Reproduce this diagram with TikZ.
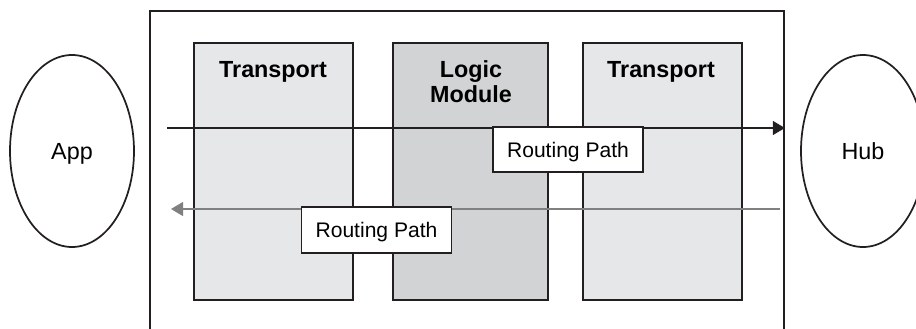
\documentclass[tikz,border=0pt]{standalone}
\usepackage{fontspec}
\setmainfont{Liberation Sans}
\usetikzlibrary{shapes,arrows.meta}
\definecolor{edge}{HTML}{231F20}
\definecolor{transfill}{HTML}{E6E7E8}
\definecolor{logicfill}{HTML}{D1D3D4}
\definecolor{backline}{HTML}{808080}

\begin{document}
\begin{tikzpicture}[x=7.5pt,y=-7.5pt,line width=1.3pt]
\tikzstyle{layer}=[draw=edge,rectangle,inner sep=0,minimum width=119.25pt,minimum height=192.75pt]
\tikzstyle{title}=[anchor=base,align=center,font=\bfseries\fontsize{17.5}{18.75}\selectfont]
\tikzstyle{side}=[draw=edge,ellipse,inner sep=0,minimum width=93pt,minimum height=144pt,text height=12.5pt,text depth=0pt,font=\fontsize{17.5}{21}\selectfont]
\tikzstyle{path}=[draw=edge,fill=white,rectangle,inner sep=0,minimum width=112.5pt,minimum height=34pt,text height=11.3pt,text depth=0pt,font=\fontsize{15.8}{19}\selectfont]
\tikzstyle{flow}=[line width=0.8pt,-{Triangle[length=9pt,width=10.5pt]}]
\useasboundingbox (0,0) rectangle (91.6,32.8);
\clip (0,0) rectangle (91.6,32.8);
% the node with its layers
\node[draw=edge,rectangle,inner sep=0,minimum width=475.5pt,minimum height=246.75pt] (frame) at (46.7,17.55) {};
\node[layer,fill=transfill] (left) at (27.35,17.15) {};
\node[layer,fill=logicfill,minimum width=116.25pt] (logic) at (47.05,17.15) {};
\node[layer,fill=transfill] (right) at (66.25,17.15) {};
\node[title] (lefttitle) at (27.3,7.7) {Transport};
\node[title] (logictitle) at (47.1,10.2) {Logic\\Module};
\node[title] (righttitle) at (66.1,7.7) {Transport};
% ends
\node[side] (app) at (7.2,15.1) {App};
\node[side] (hub) at (86.3,15.1) {Hub};
% routing
\coordinate (toin) at (16.7,12.8);
\coordinate (backin) at (78.0,20.9);
\coordinate (backout) at (17.1,20.9);
\draw[flow,edge] (toin) -- (toin -| frame.east);
\draw[flow,backline] (backin) -- (backout);
\node[path] (topath) at (56.8,14.95) {Routing Path};
\node[path] (backpath) at (37.65,23.0) {Routing Path};
\end{tikzpicture}
\end{document}
